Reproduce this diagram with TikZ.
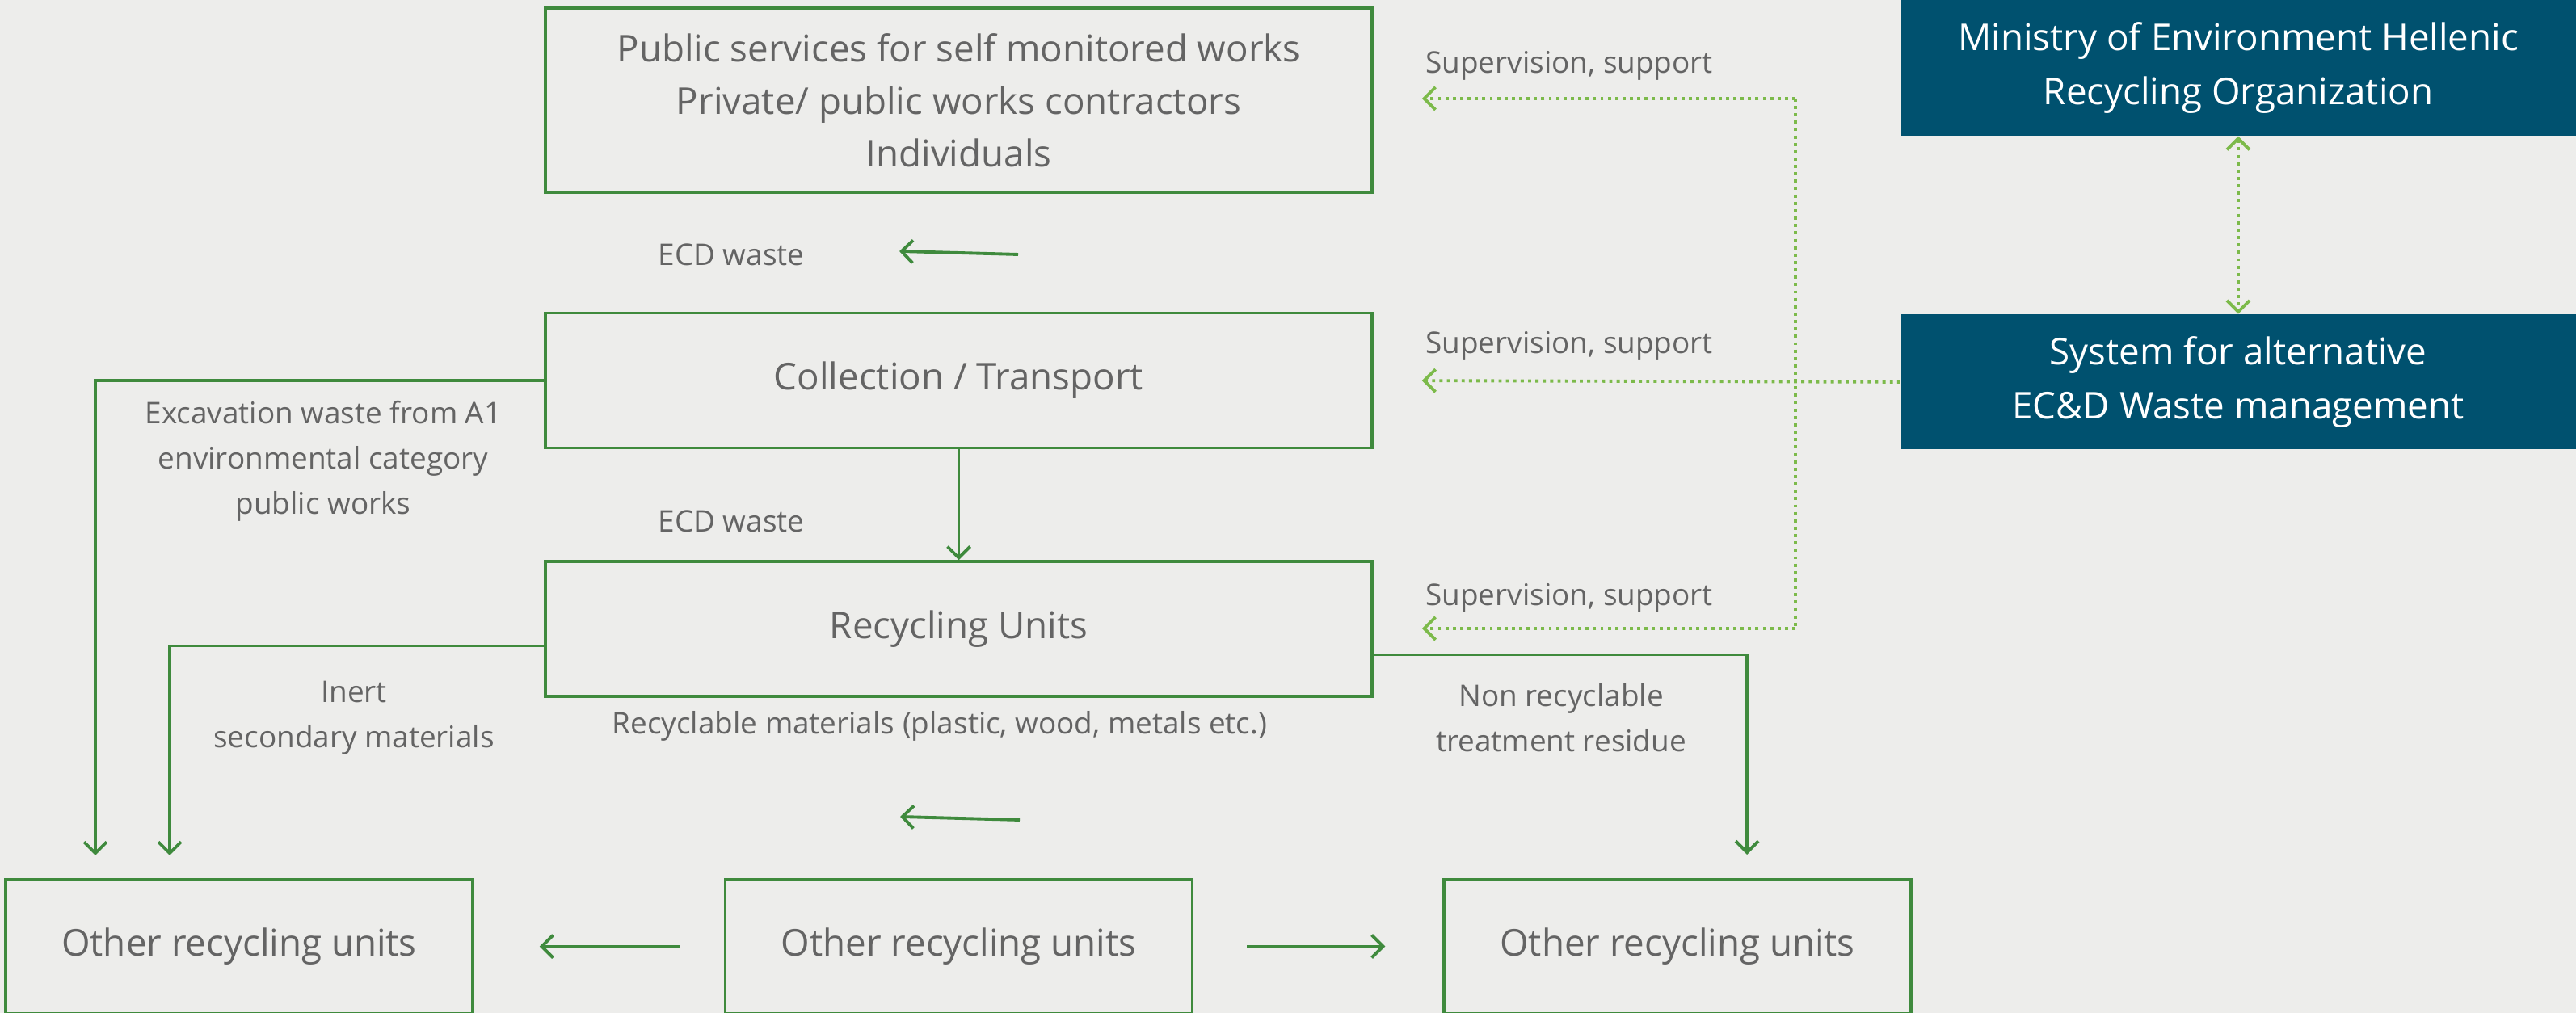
\documentclass[tikz,border=0pt]{standalone}
\usepackage{fontspec}
\setmainfont{Open Sans}
\usetikzlibrary{arrows.meta,positioning,calc}
\definecolor{paper}{HTML}{EDEDEB}
\definecolor{boxgreen}{HTML}{3F8A3D}
\definecolor{dotgreen}{HTML}{7CBA4A}
\definecolor{navy}{HTML}{00516F}
\definecolor{inkgray}{HTML}{646464}
\newcommand{\unitwidth}{10.23cm}
\newcommand{\sidewidth}{5.78cm}
\newcommand{\authwidth}{8.35cm}
\tikzset{
    unit/.style = { draw=boxgreen, line width=1pt, rectangle, align=center,
        text=inkgray, inner sep=0pt,
        minimum width = \unitwidth,
        minimum height = 1.67cm,
        font=\fontsize{13}{18.5}\selectfont
    },
    side/.style = { unit,
        minimum width = \sidewidth
    },
    auth/.style = { rectangle, fill=navy, text=white, align=center,
        inner sep=0pt,
        minimum width = \authwidth,
        minimum height = 1.68cm,
        font=\fontsize{13}{19}\selectfont
    },
    flow_text/.style = { align=center, text=inkgray,
        font=\fontsize{10.5}{16}\selectfont
    },
    flow/.style = { draw=boxgreen, line width=1.1pt, ->,
        >={Straight Barb[length=1.4mm,width=2.8mm]}
    },
    sup/.style = { draw=dotgreen, line width=1.1pt, dash pattern=on 1.1pt off 1.5pt, ->,
        >={Straight Barb[length=1.4mm,width=2.8mm]}
    }
}
\begin{document}
\begin{tikzpicture}
        \useasboundingbox[fill=paper] (0,0) rectangle (31.88,12.54);

        % main chain...
        \node[unit, minimum height=2.28cm] (works) at (11.865,11.30)
            {Public services for self monitored works\\Private/ public works contractors\\Individuals};
        \node[unit] (collect) [below=1.46cm of works] {Collection / Transport};
        \node[unit] (recyc) [below=1.37cm of collect] {Recycling Units};
        % other units...
        \node[side, minimum height=1.66cm] (mid) [below=2.23cm of recyc] {Other recycling units};
        \node[side, minimum height=1.66cm] (leftb) [left=3.09cm of mid] {Other recycling units};
        \node[side, minimum height=1.66cm] (rightb) [right=3.08cm of mid] {Other recycling units};
        % authorities...
        \node[auth] (mins) at (27.70,11.70) {Ministry of Environment Hellenic\\Recycling Organization};
        \node[auth, minimum height=1.67cm] (sys) [below=2.2cm of mins] {System for alternative\\EC\&D Waste management};

        % labels...
        \node[flow_text] (ecd1) at (9.05,9.39) {ECD waste};
        \node[flow_text] (ecd2) at (9.05,6.09) {ECD waste};
        \node[flow_text] (excav) at (4.00,6.83) {Excavation waste from A1\\environmental category\\public works};
        \node[flow_text] (inert) at (4.38,3.65) {Inert\\secondary materials};
        \node[flow_text] (nonrec) at (19.32,3.65) {Non recyclable\\treatment residue};
        \node[flow_text] (recmat) at (11.63,3.55) {Recyclable materials (plastic, wood, metals etc.)};
        \node[flow_text, anchor=west] (sup1) at (17.52,11.73) {Supervision, support};
        \node[flow_text, anchor=west] (sup2) at (17.52,8.26) {Supervision, support};
        \node[flow_text, anchor=west] (sup3) at (17.52,5.14) {Supervision, support};

        % free ends...
        \coordinate (ecdA) at (12.60,9.39);
        \coordinate (ecdB) at (11.13,9.43);
        \coordinate (recA) at (12.62,2.39);
        \coordinate (recB) at (11.14,2.43);
        \coordinate (excEnd) at (1.18,1.95);
        \coordinate (inertEnd) at (2.10,1.95);
        \coordinate (nonEnd) at (21.62,1.96);
        \coordinate (spineT) at (22.22,11.32);
        \coordinate (spineB) at (22.22,4.76);

        % arrows...
        \draw[flow] (ecdA) -- (ecdB);
        \draw[flow] (recA) -- (recB);
        \draw[flow] (collect.south) -- (recyc.north);
        \draw[flow] (collect.west) -| (excEnd);
        \draw[flow] ([yshift=-0.21cm]recyc.west) -| (inertEnd);
        \draw[flow] ([yshift=-0.32cm]recyc.east) -| (nonEnd);
        \draw[flow, shorten <=0.54cm, shorten >=0.81cm] (mid.west) -- (leftb.east);
        \draw[flow, shorten <=0.66cm, shorten >=0.71cm] (mid.east) -- (rightb.west);

        % supervision...
        \draw[sup, -] (spineT) -- (spineB);
        \draw[sup, shorten >=0.6cm] (spineT) -- (works.east |- spineT);
        \draw[sup, shorten >=0.6cm] (spineB) -- (recyc.east |- spineB);
        \draw[sup, shorten >=0.6cm] (sys.west) -- (collect.east);
        \draw[sup, <->] (mins.south) -- (sys.north);

    \end{tikzpicture}
\end{document}
